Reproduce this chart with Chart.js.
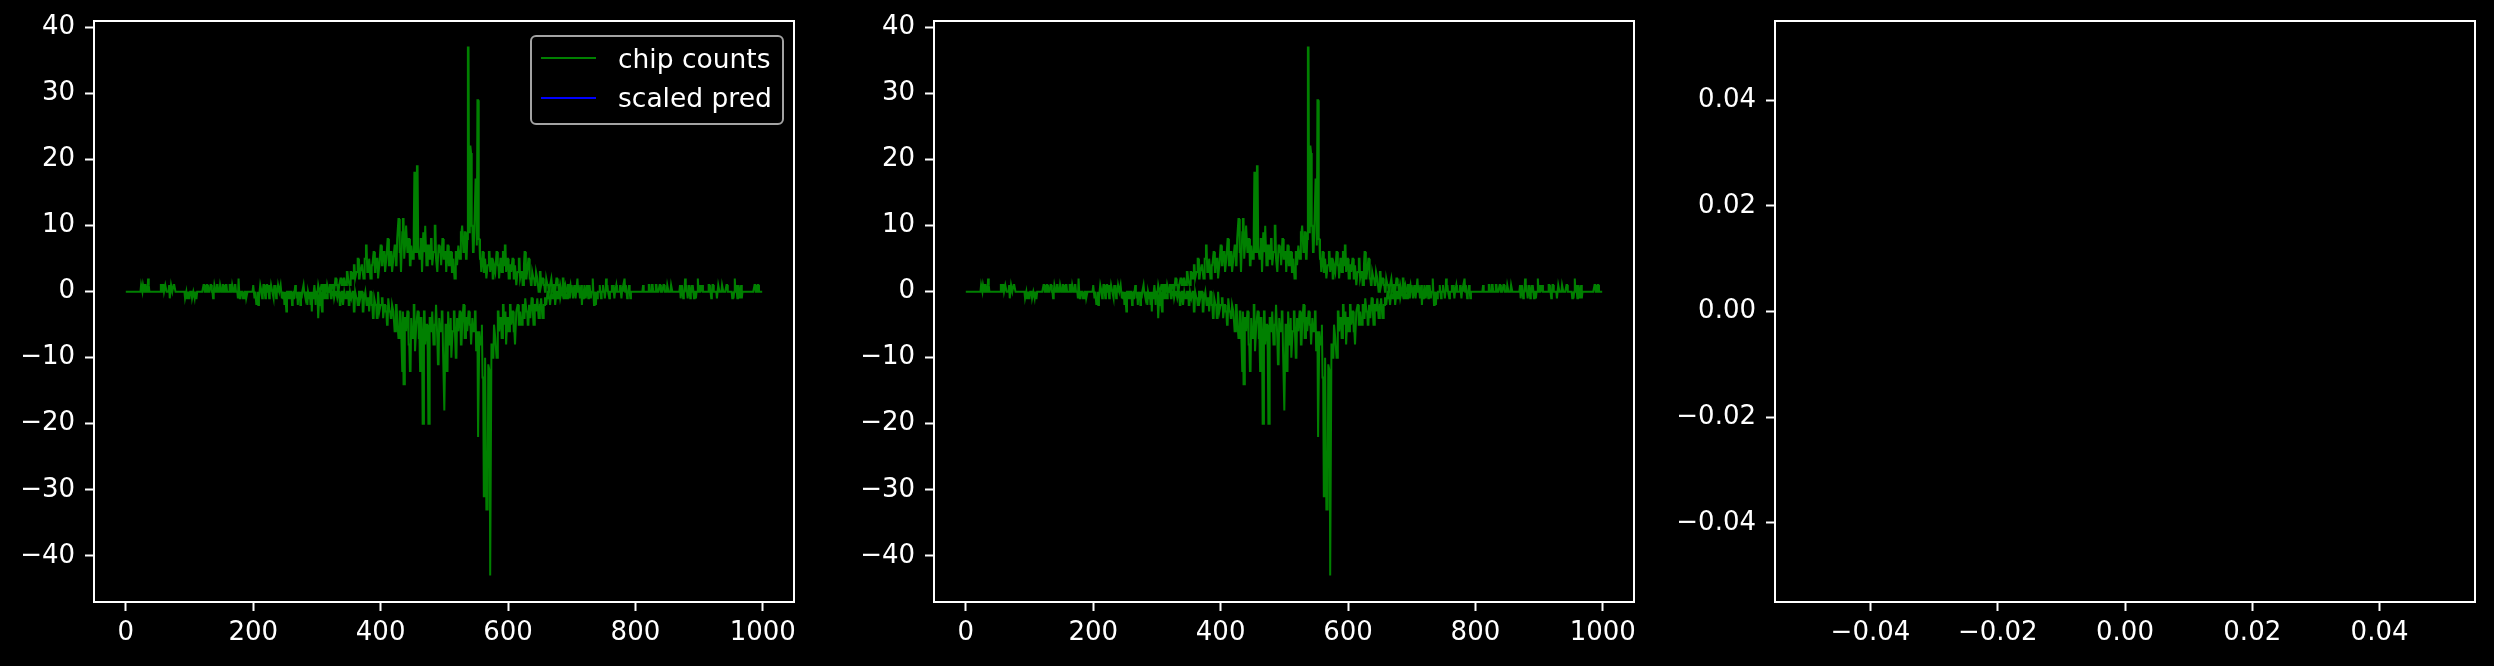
<!DOCTYPE html>
<html>
<head>
<meta charset="utf-8">
<title>chip counts vs scaled pred</title>
<script src="https://cdn.jsdelivr.net/npm/chart.js@4.4.1/dist/chart.umd.min.js"></script>
<style>
  html, body { margin: 0; padding: 0; background: #000; }
  body { position: relative; width: 2494px; height: 666px; overflow: hidden; font-family: 'DejaVu Sans', sans-serif; }
  .panel { position: absolute; top: 0; }
  .panel canvas { display: block; }
  .legend {
    position: absolute; left: 530px; top: 35px; width: 250px; height: 86px;
    border: 2px solid #a3a3a3; border-radius: 6px; background: rgba(0, 0, 0, 0.8);
    color: #fff; font-size: 26.5px;
  }
  .legend-row { position: absolute; left: 0; height: 40px; display: flex; align-items: center; white-space: nowrap; }
  .legend-swatch { width: 55px; height: 2px; margin-left: 9px; margin-right: 22px; }
</style>
</head>
<body>
<div class="panel" style="left:0px"><canvas id="countsChart" width="830" height="666"></canvas></div>
<div class="panel" style="left:840px"><canvas id="countsOnlyChart" width="830" height="666"></canvas></div>
<div class="panel" style="left:1670px"><canvas id="predChart" width="824" height="666"></canvas></div>
<div class="legend" id="countsLegend"></div>
<script>
// ── Data ───────────────────────────────────────────────────────────

const N_SAMPLES = 1000;
const CENTER_START = 300;   // first sample of the dense middle section

// upper trace, samples 300..699
const upperBand = [
  0, 0, 1, 1, 0, 0, 0, 1, 1, 0, 0, 1, 1, 1, 0, 0, 1, 1, 0, 0,
  1, 1, 0, 0, 1, 1, 1, 0, 0, 2, 2, 1, 1, 0, 0, 1, 1, 2, 2, 1,
  1, 1, 2, 2, 2, 1, 1, 3, 3, 2, 2, 1, 1, 3, 3, 2, 2, 2, 4, 4,
  2, 2, 3, 3, 5, 5, 2, 2, 3, 3, 4, 4, 4, 2, 2, 5, 5, 7, 7, 3,
  3, 3, 5, 5, 2, 2, 4, 4, 4, 6, 6, 3, 3, 5, 5, 5, 2, 2, 4, 4,
  7, 7, 4, 4, 6, 6, 6, 3, 3, 5, 5, 8, 8, 4, 4, 4, 6, 6, 3, 3,
  5, 5, 7, 7, 4, 4, 8, 8, 11, 11, 6, 6, 3, 3, 9, 11, 11, 5, 5, 8,
  10, 10, 6, 6, 8, 8, 4, 4, 7, 7, 5, 5, 9, 18, 18, 6, 6, 19, 19, 7,
  7, 5, 5, 8, 8, 3, 3, 9, 9, 6, 10, 10, 4, 4, 7, 7, 7, 5, 5, 8,
  8, 4, 4, 6, 6, 10, 10, 5, 5, 3, 3, 7, 7, 6, 6, 4, 4, 8, 8, 5,
  5, 6, 6, 3, 3, 7, 7, 4, 4, 4, 6, 6, 3, 3, 5, 5, 2, 2, 6, 6,
  4, 4, 7, 7, 5, 5, 9, 9, 10, 10, 6, 6, 9, 9, 5, 5, 8, 37, 37, 9,
  22, 22, 21, 10, 10, 6, 6, 9, 9, 17, 17, 7, 29, 29, 8, 8, 5, 5, 3, 3,
  6, 6, 3, 3, 5, 5, 2, 2, 4, 4, 6, 6, 3, 3, 5, 5, 2, 2, 4, 4,
  3, 3, 6, 6, 4, 4, 2, 2, 5, 5, 3, 3, 6, 6, 4, 7, 7, 3, 3, 5,
  5, 2, 2, 4, 4, 3, 3, 5, 5, 2, 2, 4, 4, 1, 1, 3, 3, 5, 5, 2,
  2, 3, 3, 1, 1, 4, 6, 6, 2, 2, 3, 3, 5, 5, 2, 2, 1, 1, 3, 3,
  2, 2, 1, 1, 3, 3, 2, 2, 0, 0, 3, 3, 1, 1, 2, 2, 1, 1, 0, 0,
  2, 2, 1, 1, 0, 0, 1, 1, 2, 2, 0, 0, 1, 1, 0, 0, 2, 2, 1, 1,
  0, 0, 1, 1, 0, 0, 2, 2, 0, 0, 1, 1, 0, 0, 1, 1, 0, 0, 1, 0,
];

// lower trace, samples 300..699
const lowerBand = [
  0, -1, -4, -4, 0, 0, -2, -2, -3, 0, 0, -1, -1, 0, 0, -1, -1, 0, 0, 0,
  0, 0, -1, -1, 0, 0, 0, -1, -1, 0, 0, 0, -1, -1, 0, 0, -2, -2, -1, 0,
  0, -2, -2, 0, 0, -1, -1, 0, 0, 0, -2, -2, 0, 0, -1, -1, 0, 0, -3, -3,
  0, 0, -1, -1, -2, -2, 0, 0, -1, -1, 0, 0, -3, -3, -1, -1, 0, 0, -2, -2,
  -1, -1, -3, -3, 0, 0, -2, -2, -4, -4, -1, -1, -2, -2, -4, -4, 0, 0, -3, -3,
  -2, -2, -1, -1, -4, -4, -2, -2, -3, -3, -5, -5, -1, -1, -3, -3, -4, -4, -2, -2,
  -3, -3, -6, -6, -2, -2, -4, -4, -7, -7, -3, -3, -5, -5, -12, -3, -14, -14, -4, -4,
  -6, -6, -3, -3, -8, -8, -12, -12, -4, -4, -7, -7, -2, -2, -9, -9, -5, -5, -3, -3,
  -7, -7, -12, -4, -4, -6, -20, -20, -3, -3, -8, -8, -5, -5, -9, -20, -20, -4, -4, -6,
  -6, -3, -3, -8, -8, -5, -5, -2, -2, -7, -11, -11, -4, -4, -6, -6, -3, -3, -9, -9,
  -18, -18, -5, -5, -12, -12, -3, -3, -8, -8, -4, -10, -10, -6, -6, -3, -3, -7, -10, -10,
  -4, -4, -6, -6, -3, -3, -8, -8, -5, -5, -2, -2, -7, -7, -4, -4, -6, -6, -3, -3,
  -5, -5, -8, -8, -4, -4, -6, -6, -3, -3, -9, -9, -6, -22, -22, -6, -6, -8, -8, -5,
  -13, -13, -31, -31, -10, -10, -33, -33, -33, -11, -11, -12, -43, -43, -8, -8, -10, -10, -5, -5,
  -7, -7, -10, -10, -3, -3, -6, -6, -4, -4, -7, -7, -2, -2, -5, -5, -3, -8, -8, -4,
  -4, -6, -6, -2, -2, -5, -5, -3, -3, -6, -6, -8, -8, -3, -3, -2, -2, -5, -5, -3,
  -3, -5, -5, -2, -2, -4, -4, -1, -1, -3, -3, -5, -5, -2, -2, -4, -4, -1, -1, -3,
  -5, -5, -2, -2, -3, -3, -1, -1, -4, -4, -2, -2, -1, -1, -4, -4, -2, -2, -1, -1,
  -2, -2, 0, 0, -1, -1, -2, -2, 0, 0, -1, -1, 0, 0, -2, -2, 0, 0, -1, -1,
  0, 0, -1, -1, 0, 0, 0, -1, -1, 0, 0, 0, -1, -1, 0, 0, 0, -1, 0, 0,
];

// isolated non-zero counts in the quiet tails: [sample, count]
const tailBlips = [
  [24, 1], [25, 1], [27, 1], [28, 1], [30, 1], [31, 1], [35, 2], [36, 1],
  [55, 1], [56, 1], [58, 1], [59, 1], [62, 1], [63, 1],
  [68, 1], [69, -1], [71, 1], [72, 1], [75, 1], [76, 1], [77, 1],
  [93, -1], [94, -1], [96, -1], [97, -1], [99, -1], [100, -1], [104, -1], [105, -1], [108, -1], [110, -1], [111, -1],
  [122, 1], [123, 1], [127, 1], [128, 1], [133, 1], [134, 1], [137, -1], [139, 1], [140, 1], [143, 1], [144, 1],
  [148, 1], [149, 1], [152, 1], [153, 1], [157, 1], [158, 1], [163, 1], [164, 1], [167, 1], [168, 1], [171, 1], [172, 1],
  [176, -1], [177, 2], [179, -1], [180, -1], [184, -1], [186, -1], [189, -1], [190, -1],
  [200, 1], [201, 1], [202, -1], [205, -2], [206, -1], [208, -2], [209, -1], [211, 1], [212, 1], [214, -1],
  [216, 1], [217, 1], [219, -1], [221, 1], [222, 1], [225, -1], [226, 1], [228, 1], [229, 1], [232, -1],
  [233, 1], [235, 1], [236, -1], [239, 1], [240, 1], [243, 1],
  [245, -1], [247, -1], [249, -2], [252, -3], [255, -1], [258, -1], [261, -2], [263, -1], [266, 1], [268, -1],
  [270, -2], [272, -1], [274, -2], [276, -1], [279, 1], [282, -1], [285, -2], [288, -1], [290, -2], [292, -3],
  [294, -1], [296, 1], [298, -2],
  [700, 1], [702, -1], [704, 1], [706, -1], [709, 2], [711, 1], [713, -1], [715, 1], [716, -2], [718, -1],
  [720, 1], [722, -1], [724, 1], [726, -1], [728, 1], [730, -1], [733, 2], [735, -2], [737, -1], [738, -2], [740, -1],
  [744, 1], [746, -1], [749, 1], [752, -1], [754, 2], [756, 1], [759, -1], [763, 1], [765, 1], [767, -1], [770, 1],
  [776, 1], [778, -1], [781, 1], [783, 2], [785, 1], [787, -1], [790, 1], [792, -1],
  [812, 1],
  [821, 1], [822, 1], [826, 1], [827, 1], [832, 1], [833, 1], [838, 1], [839, 1], [844, 1], [845, 1],
  [850, 1], [851, 1], [856, 1], [857, 1],
  [870, 1], [871, -1], [873, 1], [875, -1], [878, 2], [880, 1], [882, -1], [884, 1], [886, -1], [888, 1],
  [890, 1], [892, -1], [895, -1], [898, 2], [900, 1], [903, 1], [905, 1],
  [915, 1], [916, 1], [919, -1], [921, 1], [922, 1], [928, -1], [930, 1], [931, 1], [936, 1], [937, 1], [943, 1], [944, 1],
  [952, -1], [954, -1], [956, 2], [958, 1], [960, -1], [962, 1], [964, -1], [966, 1], [967, -1],
  [987, 1], [988, 1], [992, 1], [993, 1],
];

const scaledPred = [];   // nothing was plotted for the prediction

const COUNT_X_TICKS = [0, 200, 400, 600, 800, 1000];
const COUNT_Y_TICKS = [-40, -30, -20, -10, 0, 10, 20, 30, 40];
const PRED_TICKS = [-0.04, -0.02, 0, 0.02, 0.04];

// ── Style ──────────────────────────────────────────────────────────

const GREEN = '#008000';
const BLUE = '#0000ff';
const FG = '#ffffff';
const FONT = { family: "'DejaVu Sans', sans-serif", size: 26 };
const LINE_W = 2;

// ── Series builders ────────────────────────────────────────────────

function buildUpperPoints() {
  const ys = new Array(N_SAMPLES).fill(0);
  tailBlips.forEach(([i, v]) => { ys[i] = v; });
  upperBand.forEach((v, k) => { ys[CENTER_START + k] = v; });
  return ys.map((y, x) => ({ x, y }));
}

function buildLowerPoints() {
  return lowerBand.map((y, k) => ({ x: CENTER_START + k, y }));
}

// matplotlib-style 5% margins
function paddedRange(lo, hi) {
  const pad = (hi - lo) * 0.05;
  return [lo - pad, hi + pad];
}

const upperPts = buildUpperPoints();
const lowerPts = buildLowerPoints();
const allY = upperPts.map(p => p.y).concat(lowerPts.map(p => p.y));
const X_RANGE = paddedRange(0, N_SAMPLES - 1);
const Y_RANGE = paddedRange(Math.min(...allY), Math.max(...allY));
const PRED_RANGE = [-0.055, 0.055];

function tickLabel(decimals) {
  return v => (v < 0 ? '\u2212' : '') + Math.abs(v).toFixed(decimals);
}

// ── Chart pieces ───────────────────────────────────────────────────

const framePlugin = {
  id: 'frame',
  afterDraw(chart) {
    const { ctx, chartArea: a } = chart;
    ctx.save();
    ctx.strokeStyle = FG;
    ctx.lineWidth = 2;
    ctx.strokeRect(a.left, a.top, a.right - a.left, a.bottom - a.top);
    ctx.restore();
  },
};

// fixed axis box, and no label-overhang padding so the plot area stays put
function pinAxis(s, fitSize, horizontal) {
  if (horizontal) s.height = fitSize; else s.width = fitSize;
  s.paddingTop = 0; s.paddingBottom = 0; s.paddingLeft = 0; s.paddingRight = 0;
}

function axis(range, ticks, decimals, fitSize, horizontal) {
  return {
    type: 'linear',
    min: range[0],
    max: range[1],
    afterBuildTicks: s => { s.ticks = ticks.map(value => ({ value })); },
    afterFit: s => pinAxis(s, fitSize, horizontal),
    ticks: {
      color: FG, font: FONT, padding: horizontal ? 7 : 10, autoSkip: false,
      maxRotation: 0, minRotation: 0, callback: tickLabel(decimals),
    },
    grid: {
      display: true, drawOnChartArea: false, drawTicks: true,
      tickLength: 9, tickWidth: 2, tickColor: FG, color: FG,
    },
    border: { display: true, color: FG, width: 2 },
  };
}

function chipDatasets(withLegend) {
  const base = { borderColor: GREEN, backgroundColor: GREEN, borderWidth: LINE_W, pointRadius: 0, tension: 0, fill: false };
  const sets = [
    { ...base, label: 'chip counts', data: upperPts, inLegend: true },
    { ...base, label: 'chip counts', data: lowerPts, inLegend: false },
  ];
  if (withLegend) {
    sets.push({ label: 'scaled pred', data: scaledPred, borderColor: BLUE, backgroundColor: BLUE, borderWidth: LINE_W, pointRadius: 0, inLegend: true });
  }
  return sets;
}

function makeChart(id, { datasets, xRange, yRange, xTicks, yTicks, decimals, yAxisWidth, padRight }) {
  return new Chart(document.getElementById(id), {
    type: 'line',
    data: { datasets },
    options: {
      responsive: false,
      animation: false,
      devicePixelRatio: 1,
      layout: { padding: { left: 0, right: padRight, top: 21, bottom: 0 } },
      plugins: { legend: { display: false }, tooltip: { enabled: false } },
      scales: {
        x: axis(xRange, xTicks, decimals, 64, true),
        y: axis(yRange, yTicks, decimals, yAxisWidth, false),
      },
    },
    plugins: [framePlugin],
  });
}

// ── HTML legend (top-right of first panel) ─────────────────────────

function renderLegend(chart, el) {
  chart.data.datasets.filter(d => d.inLegend).forEach((d, i) => {
    const row = document.createElement('div');
    row.className = 'legend-row';
    row.style.top = (1 + i * 39.5) + 'px';
    row.innerHTML = `<span class="legend-swatch" style="background:${d.borderColor}"></span><span>${d.label}</span>`;
    el.appendChild(row);
  });
}

// ── Build ──────────────────────────────────────────────────────────

const countsChart = makeChart('countsChart', {
  datasets: chipDatasets(true), xRange: X_RANGE, yRange: Y_RANGE,
  xTicks: COUNT_X_TICKS, yTicks: COUNT_Y_TICKS, decimals: 0, yAxisWidth: 94, padRight: 36,
});
renderLegend(countsChart, document.getElementById('countsLegend'));

makeChart('countsOnlyChart', {
  datasets: chipDatasets(false), xRange: X_RANGE, yRange: Y_RANGE,
  xTicks: COUNT_X_TICKS, yTicks: COUNT_Y_TICKS, decimals: 0, yAxisWidth: 94, padRight: 36,
});

makeChart('predChart', {
  datasets: [], xRange: PRED_RANGE, yRange: PRED_RANGE,
  xTicks: PRED_TICKS, yTicks: PRED_TICKS, decimals: 2, yAxisWidth: 105, padRight: 19,
});
</script>
</body>
</html>
